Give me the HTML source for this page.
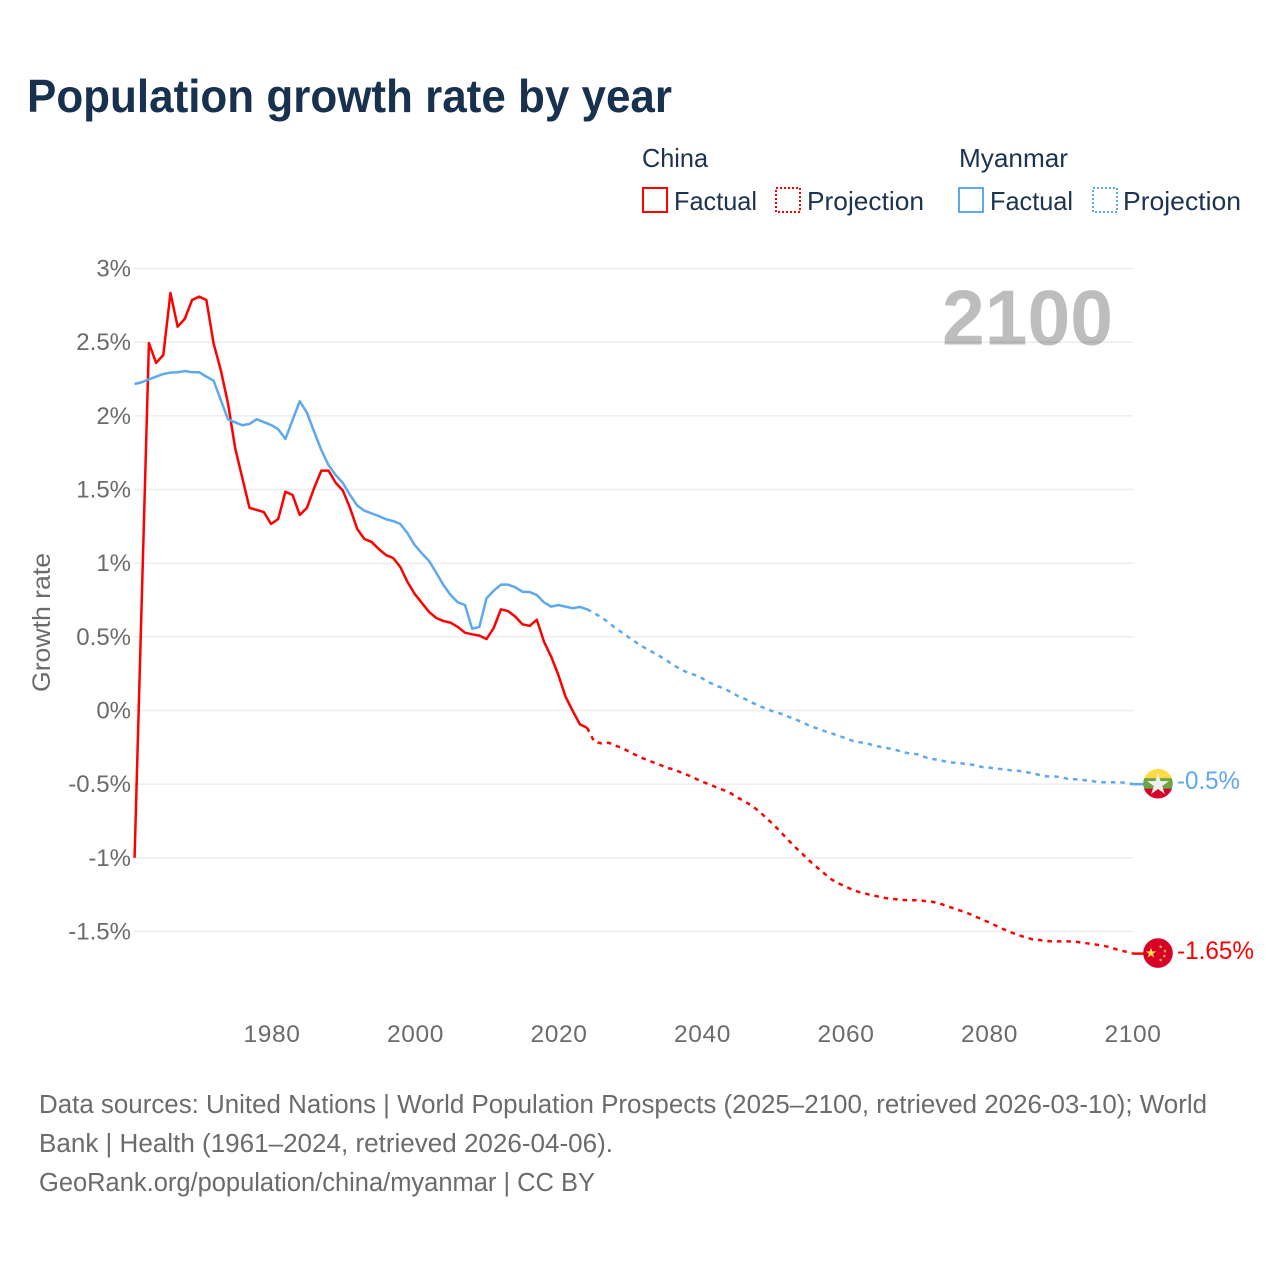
<!DOCTYPE html>
<html lang="en">
<head>
<meta charset="utf-8">
<title>Population growth rate by year</title>
<style>
html,body{margin:0;padding:0;background:#fff;}
svg{display:block;}
text{font-family:"Liberation Sans",Arial,sans-serif;}
</style>
</head>
<body>
<svg id="chart" xmlns="http://www.w3.org/2000/svg" width="1280" height="1280" viewBox="0 0 1280 1280">
  <rect x="0" y="0" width="1280" height="1280" fill="#ffffff"/>
  <defs>
    <clipPath id="flag-clip"><circle cx="0" cy="0" r="14.8"/></clipPath>
  </defs>
  <text x="27" y="112" font-size="46" font-weight="700" fill="#17314f" textLength="645" lengthAdjust="spacingAndGlyphs">Population growth rate by year</text>

  <g font-size="26" fill="#1b3350">
    <text x="642" y="167" textLength="66" lengthAdjust="spacingAndGlyphs">China</text>
    <text x="959" y="167" textLength="109" lengthAdjust="spacingAndGlyphs">Myanmar</text>
    <g>
      <rect x="643" y="188" width="24" height="24" fill="none" stroke="#ff0000" stroke-width="2"/>
      <text x="674" y="210" textLength="83" lengthAdjust="spacingAndGlyphs">Factual</text>
    </g>
    <g>
      <rect x="776" y="188" width="24" height="24" fill="none" stroke="#ff0000" stroke-width="2" stroke-dasharray="2 2"/>
      <text x="807" y="210" textLength="117" lengthAdjust="spacingAndGlyphs">Projection</text>
    </g>
    <g>
      <rect x="959" y="188" width="24" height="24" fill="none" stroke="#5ea8ee" stroke-width="2"/>
      <text x="990" y="210" textLength="83" lengthAdjust="spacingAndGlyphs">Factual</text>
    </g>
    <g>
      <rect x="1093" y="188" width="24" height="24" fill="none" stroke="#5ea8ee" stroke-width="2" stroke-dasharray="2 2"/>
      <text x="1123" y="210" textLength="118" lengthAdjust="spacingAndGlyphs">Projection</text>
    </g>
  </g>

  <g id="grid"></g>
  <g id="y-ticks"></g>
  <g id="x-ticks"></g>

  <text transform="translate(50,622.5) rotate(-90)" text-anchor="middle" font-size="25" fill="#6b6b6b" textLength="139" lengthAdjust="spacingAndGlyphs">Growth rate</text>
  <text x="942" y="344.5" font-size="78" font-weight="700" fill="#000000" fill-opacity="0.26" textLength="171" lengthAdjust="spacingAndGlyphs">2100</text>

  <g id="series"></g>

  <g id="flag-myanmar">
    <g clip-path="url(#flag-clip)">
      <rect x="-15" y="-15" width="30" height="10" fill="#ffda44"/>
      <rect x="-15" y="-5.5" width="30" height="11" fill="#6da544"/>
      <rect x="-15" y="5" width="30" height="10" fill="#d80027"/>
    </g>
    <polygon transform="translate(0,1) scale(11.5)" fill="#f0f0f0" points="0,-1 .2245,-.309 .951,-.309 .363,.118 .588,.809 0,.382 -.588,.809 -.363,.118 -.951,-.309 -.2245,-.309"/>
  </g>
  <g id="flag-china">
    <circle cx="0" cy="0" r="14.8" fill="#d80027"/>
    <polygon transform="translate(-7,0) scale(5.6)" fill="#ffda44" points="0,-1 .2245,-.309 .951,-.309 .363,.118 .588,.809 0,.382 -.588,.809 -.363,.118 -.951,-.309 -.2245,-.309"/>
    <polygon transform="translate(2.7,-6.3) scale(2)" fill="#ffda44" points="0,-1 .2245,-.309 .951,-.309 .363,.118 .588,.809 0,.382 -.588,.809 -.363,.118 -.951,-.309 -.2245,-.309"/>
    <polygon transform="translate(7,-2) scale(2)" fill="#ffda44" points="0,-1 .2245,-.309 .951,-.309 .363,.118 .588,.809 0,.382 -.588,.809 -.363,.118 -.951,-.309 -.2245,-.309"/>
    <polygon transform="translate(6.3,3) scale(2)" fill="#ffda44" points="0,-1 .2245,-.309 .951,-.309 .363,.118 .588,.809 0,.382 -.588,.809 -.363,.118 -.951,-.309 -.2245,-.309"/>
    <polygon transform="translate(2.7,7) scale(2)" fill="#ffda44" points="0,-1 .2245,-.309 .951,-.309 .363,.118 .588,.809 0,.382 -.588,.809 -.363,.118 -.951,-.309 -.2245,-.309"/>
  </g>

  <text id="label-myanmar" x="1177" y="789" font-size="25" fill="#5ea8ee" textLength="63" lengthAdjust="spacingAndGlyphs"></text>
  <text id="label-china" x="1177" y="959" font-size="25" fill="#ff0000" textLength="77" lengthAdjust="spacingAndGlyphs"></text>

  <g font-size="25.5" fill="#6b6b6b">
    <text x="39" y="1113" textLength="1168" lengthAdjust="spacingAndGlyphs">Data sources: United Nations | World Population Prospects (2025–2100, retrieved 2026-03-10); World</text>
    <text x="39" y="1152" textLength="574" lengthAdjust="spacingAndGlyphs">Bank | Health (1961–2024, retrieved 2026-04-06).</text>
    <text x="39" y="1191" textLength="556" lengthAdjust="spacingAndGlyphs">GeoRank.org/population/china/myanmar | CC BY</text>
  </g>
</svg>
<script>
const xTicks = [1980, 2000, 2020, 2040, 2060, 2080, 2100];
const yTicks = [3, 2.5, 2, 1.5, 1, 0.5, 0, -0.5, -1, -1.5];
const factualStartYear = 1961;
const projectionStartYear = 2025;

const chinaFactual = [
  -1.0, 0.75, 2.494, 2.359, 2.413, 2.834, 2.605, 2.659, 2.786, 2.809,
  2.786, 2.492, 2.311, 2.087, 1.782, 1.578, 1.376, 1.361, 1.347, 1.266,
  1.3, 1.485, 1.463, 1.327, 1.376, 1.51, 1.628, 1.628, 1.546, 1.493,
  1.374, 1.232, 1.164, 1.144, 1.096, 1.055, 1.035, 0.974, 0.872, 0.791,
  0.73, 0.669, 0.628, 0.607, 0.596, 0.567, 0.528, 0.517, 0.508, 0.485,
  0.56, 0.687, 0.675, 0.637, 0.585, 0.574, 0.616, 0.467, 0.365, 0.241,
  0.094, -0.003, -0.094, -0.117
];
const chinaProjection = [
  -0.212, -0.223, -0.219, -0.239, -0.257, -0.284, -0.307, -0.329, -0.348, -0.365,
  -0.388, -0.399, -0.419, -0.438, -0.46, -0.483, -0.501, -0.521, -0.54, -0.562,
  -0.592, -0.619, -0.648, -0.687, -0.732, -0.777, -0.827, -0.879, -0.929, -0.974,
  -1.022, -1.064, -1.105, -1.146, -1.173, -1.196, -1.218, -1.234, -1.246, -1.257,
  -1.268, -1.277, -1.281, -1.286, -1.288, -1.288, -1.293, -1.298, -1.309, -1.325,
  -1.343, -1.359, -1.376, -1.397, -1.417, -1.44, -1.463, -1.485, -1.505, -1.524,
  -1.539, -1.553, -1.558, -1.565, -1.567, -1.567, -1.567, -1.569, -1.576, -1.583,
  -1.59, -1.598, -1.61, -1.626, -1.637, -1.65
];
const myanmarFactual = [
  2.216, 2.228, 2.248, 2.266, 2.284, 2.293, 2.296, 2.304, 2.296, 2.296,
  2.266, 2.239, 2.108, 1.977, 1.956, 1.936, 1.945, 1.977, 1.958, 1.938,
  1.909, 1.843, 1.972, 2.099, 2.021, 1.892, 1.768, 1.666, 1.598, 1.544,
  1.463, 1.391, 1.356, 1.338, 1.32, 1.298, 1.286, 1.266, 1.203, 1.123,
  1.067, 1.015, 0.935, 0.852, 0.784, 0.734, 0.716, 0.555, 0.567, 0.762,
  0.813, 0.854, 0.854, 0.836, 0.806, 0.804, 0.784, 0.734, 0.705, 0.716,
  0.705, 0.694, 0.703, 0.687
];
const myanmarProjection = [
  0.66, 0.633, 0.596, 0.558, 0.524, 0.49, 0.456, 0.426, 0.399, 0.372,
  0.343, 0.309, 0.28, 0.257, 0.241, 0.219, 0.191, 0.168, 0.151, 0.126,
  0.098, 0.078, 0.053, 0.031, 0.01, -0.008, -0.022, -0.042, -0.06, -0.08,
  -0.105, -0.121, -0.139, -0.155, -0.171, -0.189, -0.207, -0.216, -0.223, -0.239,
  -0.248, -0.257, -0.268, -0.282, -0.293, -0.297, -0.316, -0.329, -0.336, -0.348,
  -0.354, -0.358, -0.365, -0.37, -0.384, -0.388, -0.395, -0.399, -0.406, -0.409,
  -0.417, -0.426, -0.438, -0.447, -0.447, -0.453, -0.465, -0.467, -0.472, -0.476,
  -0.485, -0.487, -0.487, -0.487, -0.49, -0.5
];

const SVG_NS = 'http://www.w3.org/2000/svg';
const GRID_LEFT = 134;
const GRID_RIGHT = 1133;
const RED = '#ff0000';
const BLUE = '#5ea8ee';

function xScale(year) { return 1133 - (2100 - year) * 7.183; }
function xTickScale(year) { return 1133 - (2100 - year) * 7.175; }
function yScale(value) { return 710.5 - value * 147.33; }

function make(tag, parent) {
  const el = document.createElementNS(SVG_NS, tag);
  parent.appendChild(el);
  return el;
}

const gridGroup = document.getElementById('grid');
const yTickGroup = document.getElementById('y-ticks');
yTicks.forEach(function (tick) {
  const line = make('line', gridGroup);
  
  
  line.setAttribute('x1', GRID_LEFT);
  line.setAttribute('x2', GRID_RIGHT);
  line.setAttribute('y1', yScale(tick));
  line.setAttribute('y2', yScale(tick));
  line.setAttribute('stroke', '#ebebeb');
  line.setAttribute('stroke-width', '1.4');

  const label = make('text', yTickGroup);
  
  
  label.setAttribute('x', 131);
  label.setAttribute('y', yScale(tick) + 8);
  label.setAttribute('text-anchor', 'end');
  label.setAttribute('font-size', '24');
  label.setAttribute('fill', '#6b6b6b');
  label.textContent = tick + '%';
});

const xTickGroup = document.getElementById('x-ticks');
xTicks.forEach(function (tick) {
  const label = make('text', xTickGroup);
  
  
  label.setAttribute('x', xTickScale(tick));
  label.setAttribute('y', 1042);
  label.setAttribute('text-anchor', 'middle');
  label.setAttribute('font-size', '24.5');
  label.setAttribute('letter-spacing', '0.6');
  label.setAttribute('fill', '#6b6b6b');
  label.textContent = String(tick);
});

function pathFrom(values, startYear) {
  return values.map(function (v, i) {
    return (i ? 'L' : 'M') + xScale(startYear + i).toFixed(2) + ' ' + yScale(v).toFixed(2);
  }).join(' ');
}

const seriesGroup = document.getElementById('series');

function drawLine(d, color, dashed, name) {
  const path = make('path', seriesGroup);
  
  
  path.setAttribute('d', d);
  path.setAttribute('fill', 'none');
  path.setAttribute('stroke', color);
  path.setAttribute('stroke-width', '2.5');
  path.setAttribute('stroke-linejoin', 'round');
  if (dashed) path.setAttribute('stroke-dasharray', '4.5 5');
  return path;
}

function drawSeries(factual, projection, color, prefix) {
  drawLine(pathFrom(factual, factualStartYear), color, false, prefix + '-factual-line');
  const lastFactual = factual[factual.length - 1];
  drawLine(pathFrom([lastFactual].concat(projection), projectionStartYear - 1), color, true, prefix + '-projection-line');
  const last = projection[projection.length - 1];
  const lastYear = projectionStartYear + projection.length - 1;
  drawLine('M' + xScale(lastYear) + ' ' + yScale(last) + ' L' + (xScale(lastYear) + 11) + ' ' + yScale(last), color, false, prefix + '-end-connector');
  return last;
}

const chinaLast = drawSeries(chinaFactual, chinaProjection, RED, 'china');
const myanmarLast = drawSeries(myanmarFactual, myanmarProjection, BLUE, 'myanmar');

document.getElementById('flag-myanmar').setAttribute('transform', 'translate(1158,' + (yScale(myanmarLast) - 0.5) + ')');
document.getElementById('flag-china').setAttribute('transform', 'translate(1158,' + (yScale(chinaLast) - 0.5) + ')');
document.getElementById('label-myanmar').textContent = parseFloat(myanmarLast.toFixed(2)) + '%';
document.getElementById('label-china').textContent = parseFloat(chinaLast.toFixed(2)) + '%';
</script>
</body>
</html>
